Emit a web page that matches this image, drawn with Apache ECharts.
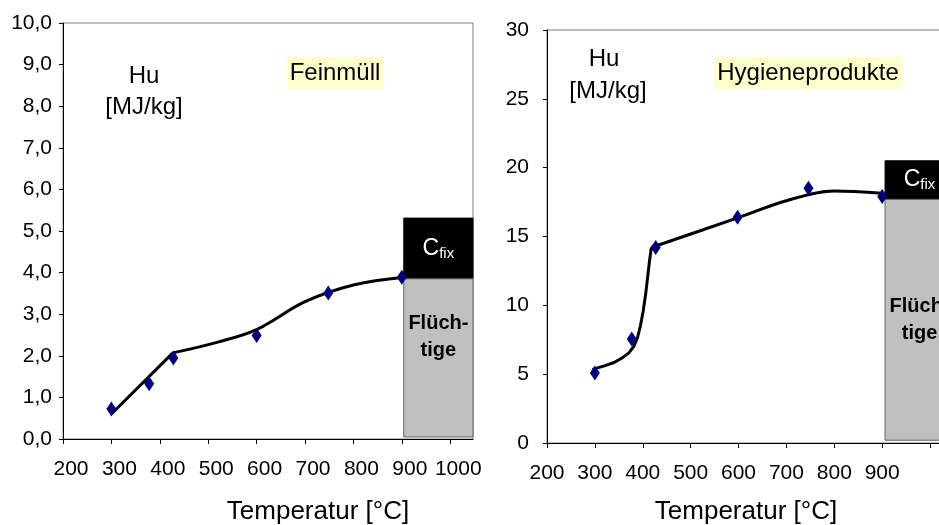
<!DOCTYPE html>
<html>
<head>
<meta charset="utf-8">
<script src="https://cdn.jsdelivr.net/npm/echarts@6/dist/echarts.min.js"></script>
<style>
  html, body { margin: 0; padding: 0; background: #fff; }
  #chart { width: 939px; height: 525px; }
</style>
</head>
<body>
<div id="chart"></div>
<script>
// Feinmüll (left) — measured points and hand-drawn trend
const leftPoints = [[300, 0.72], [378, 1.33], [428, 1.95], [600, 2.49], [748, 3.51], [900, 3.89]];
const leftTrendStraight = [[300, 0.6], [427, 2.07]];
const leftTrendCurve = [[427, 2.07], [520, 2.33], [600, 2.63], [700, 3.3], [800, 3.7], [900, 3.88]];
const leftFixed = [904, 3.85, 5.31];     // x start, y low, y high
const leftVolatile = [904, 0.05, 3.85];

// Hygieneprodukte (right)
const rightPoints = [[300, 5.08], [377, 7.55], [427, 14.2], [598, 16.4], [746, 18.5], [900, 17.9]];
const rightTrendSteep = [[295, 5.35], [320, 5.6], [340, 5.85], [358, 6.2], [371, 6.55], [381, 7.0], [389, 7.65],
  [395, 8.5], [401, 9.6], [406, 10.8], [410, 12.0], [414, 13.2], [418, 14.2]];
const rightTrendCurve = [[418, 14.2], [598, 16.35], [700, 17.6], [800, 18.3], [900, 18.15]];
const rightFixed = [906, 17.7, 20.5];
const rightVolatile = [906, 0.2, 17.7];

const leftXLabels = [200, 300, 400, 500, 600, 700, 800, 900, 1000];
const rightXTicks = [200, 300, 400, 500, 600, 700, 800, 900, 1000];
const rightXLabels = [200, 300, 400, 500, 600, 700, 800, 900];

const FONT = "'Liberation Sans', Arial, sans-serif";
const LEFT_XMAX = 1047;
const RIGHT_XMAX = 1050;

const chart = echarts.init(document.getElementById("chart"));

function xAxis(gridIndex, max, ticks, labels, labelPad) {
  return {
    type: "value", gridIndex, min: 200, max, interval: 100,
    splitLine: { show: false },
    axisLine: { lineStyle: { color: "#000", width: 1 } },
    axisTick: { length: 5, lineStyle: { color: "#000" }, customValues: ticks },
    axisLabel: {
      customValues: labels, margin: 20, color: "#000", formatter: v => String(v),
      fontFamily: FONT, fontSize: 21, padding: labelPad
    }
  };
}

function yAxis(gridIndex, max, interval, fmt, margin) {
  return {
    type: "value", gridIndex, min: 0, max, interval,
    splitLine: { show: false },
    axisLine: { show: true, lineStyle: { color: "#000", width: 1 } },
    axisTick: { show: true, length: 4, lineStyle: { color: "#000" } },
    axisLabel: { formatter: fmt, margin, color: "#000", fontFamily: FONT, fontSize: 21 }
  };
}

function blocks(xEnd, fixed, volatile, volLabel) {
  return {
    silent: true,
    data: [
      [
        { xAxis: fixed[0], yAxis: fixed[2],
          itemStyle: { color: "#000", borderColor: "#000", borderWidth: 1 },
          label: {
            show: true, position: "inside",
            formatter: "{c|C}{s|fix}",
            rich: {
              c: { color: "#fff", fontSize: 23, fontFamily: FONT },
              s: { color: "#fff", fontSize: 15, fontFamily: FONT, padding: [10, 0, 0, 0] }
            }
          } },
        { xAxis: xEnd, yAxis: fixed[1] }
      ],
      [
        { xAxis: volatile[0], yAxis: volatile[2],
          itemStyle: { color: "#c0c0c0", borderColor: "#606060", borderWidth: 1 },
          label: volLabel },
        { xAxis: xEnd, yAxis: volatile[1] }
      ]
    ]
  };
}

const volText = {
  show: true, formatter: "Flüch-\ntige", color: "#000",
  fontFamily: FONT, fontSize: 20, fontWeight: "bold", lineHeight: 27, align: "center"
};

const trendLine = { color: "#000", width: 3 };
const marker = { color: "#000080", opacity: 1 };

chart.setOption({
  backgroundColor: "#fff",
  animation: false,
  grid: [
    { left: 63, top: 23, width: 410, height: 416, show: true, borderColor: "#808080", borderWidth: 1, outerBoundsMode: "none" },
    { left: 547, top: 30, width: 407, height: 413, show: true, borderColor: "#808080", borderWidth: 1, outerBoundsMode: "none" }
  ],
  xAxis: [
    xAxis(0, LEFT_XMAX, leftXLabels, leftXLabels, [0, 0, 0, 16]),
    xAxis(1, RIGHT_XMAX, rightXTicks, rightXLabels, 0)
  ],
  yAxis: [
    yAxis(0, 10, 1, v => v.toFixed(1).replace(".", ","), 11),
    yAxis(1, 30, 5, v => String(v), 18)
  ],
  series: [
    { type: "line", xAxisIndex: 0, yAxisIndex: 0, data: leftTrendStraight,
      showSymbol: false, lineStyle: trendLine, z: 3,
      markArea: blocks(LEFT_XMAX, leftFixed, leftVolatile,
        Object.assign({ position: "insideTop", distance: 32 }, volText)) },
    { type: "line", xAxisIndex: 0, yAxisIndex: 0, data: leftTrendCurve,
      showSymbol: false, smooth: 0.35, lineStyle: trendLine, z: 3 },
    { type: "scatter", xAxisIndex: 0, yAxisIndex: 0, data: leftPoints,
      symbol: "diamond", symbolSize: [10, 15], itemStyle: marker, z: 4 },

    { type: "line", xAxisIndex: 1, yAxisIndex: 1, data: rightTrendSteep,
      showSymbol: false, lineStyle: trendLine, z: 3,
      markArea: blocks(RIGHT_XMAX, rightFixed, rightVolatile,
        Object.assign({ position: "inside" }, volText)) },
    { type: "line", xAxisIndex: 1, yAxisIndex: 1, data: rightTrendCurve,
      showSymbol: false, smooth: 0.35, lineStyle: trendLine, z: 3 },
    { type: "scatter", xAxisIndex: 1, yAxisIndex: 1, data: rightPoints,
      symbol: "diamond", symbolSize: [10, 15], itemStyle: marker, z: 4 }
  ],
  graphic: [
    { type: "text", x: 144, y: 76, style: { text: "Hu", font: "24px " + FONT, fill: "#000", align: "center", verticalAlign: "middle" } },
    { type: "text", x: 144, y: 107, style: { text: "[MJ/kg]", font: "24px " + FONT, fill: "#000", align: "center", verticalAlign: "middle" } },
    { type: "text", x: 335, y: 73, style: { text: "Feinmüll", font: "24px " + FONT, fill: "#000", align: "center", verticalAlign: "middle", backgroundColor: "#ffffcc", padding: [4, 3, 4, 3] } },
    { type: "text", x: 604, y: 59, style: { text: "Hu", font: "24px " + FONT, fill: "#000", align: "center", verticalAlign: "middle" } },
    { type: "text", x: 608, y: 91, style: { text: "[MJ/kg]", font: "24px " + FONT, fill: "#000", align: "center", verticalAlign: "middle" } },
    { type: "text", x: 808, y: 73, style: { text: "Hygieneprodukte", font: "24px " + FONT, fill: "#000", align: "center", verticalAlign: "middle", backgroundColor: "#ffffcc", padding: [4, 3, 4, 3] } },
    { type: "text", x: 318, y: 512, style: { text: "Temperatur [°C]", font: "26px " + FONT, fill: "#000", align: "center", verticalAlign: "middle" } },
    { type: "text", x: 746, y: 512, style: { text: "Temperatur [°C]", font: "26px " + FONT, fill: "#000", align: "center", verticalAlign: "middle" } }
  ]
});

window.addEventListener("resize", () => chart.resize());
</script>
</body>
</html>
